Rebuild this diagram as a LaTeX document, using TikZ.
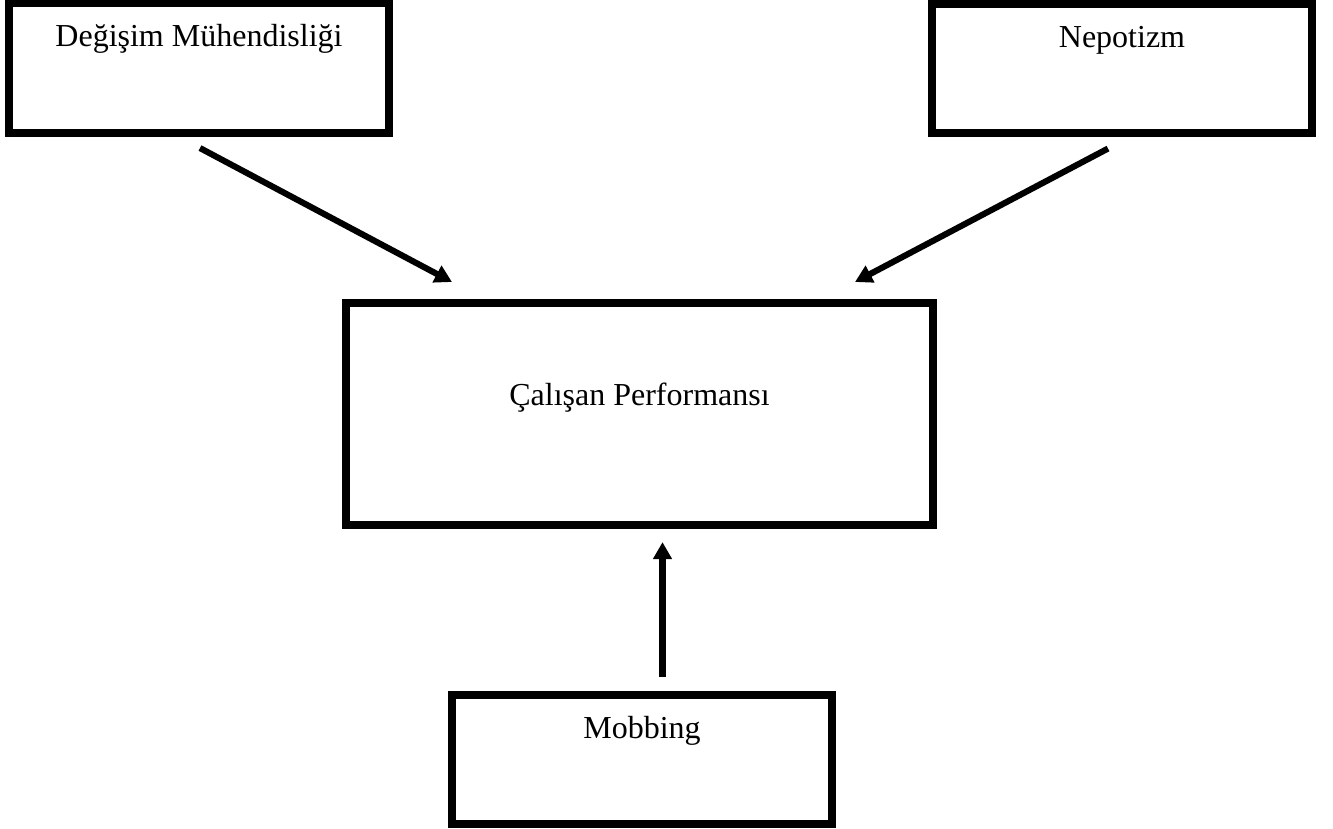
\documentclass[tikz,border=0pt]{standalone}
\usepackage{fontspec}
\setmainfont{Liberation Serif}
\usepackage{tikz}
\usetikzlibrary{arrows.meta,positioning,calc}

\begin{document}
\begin{tikzpicture}[x=0.375pt,y=-0.375pt, every node/.style={font=\fontsize{12}{14.4}\selectfont},
  kutu/.style={draw=black,line width=3pt,fill=white,outer sep=0pt,inner sep=0pt,
               minimum width=142.5pt,text height=16.2pt,text depth=32.2pt,align=center},
  merkez/.style={draw=black,line width=3pt,fill=white,outer sep=0pt,inner sep=0pt,
               minimum width=220.1pt,text height=38.6pt,text depth=44.5pt,align=center},
  ok/.style={-{Triangle[length=6.4pt,width=6.8pt]},black,line width=2.3pt}]
\useasboundingbox (0,0) rectangle (1333,829);

\node[kutu,anchor=north] (dm) at (199,3.5) {Değişim Mühendisliği};
\node[kutu,anchor=north] (np) at (1122,4) {Nepotizm};
\node[merkez,anchor=north] (cp) at (639.5,303) {Çalışan Performansı};
\node[kutu,anchor=north] (mb) at (642,695) {Mobbing};

\draw[ok] ($(dm.south)+(1,15.5)$) -- ($(cp.north)+(-187.5,-21)$);
\draw[ok] ($(np.south)+(-14,15.5)$) -- ($(cp.north)+(215.5,-21)$);
\draw[ok] ($(mb.north)+(20.5,-18)$) -- ($(cp.south)+(23,17.5)$);
\end{tikzpicture}
\end{document}
